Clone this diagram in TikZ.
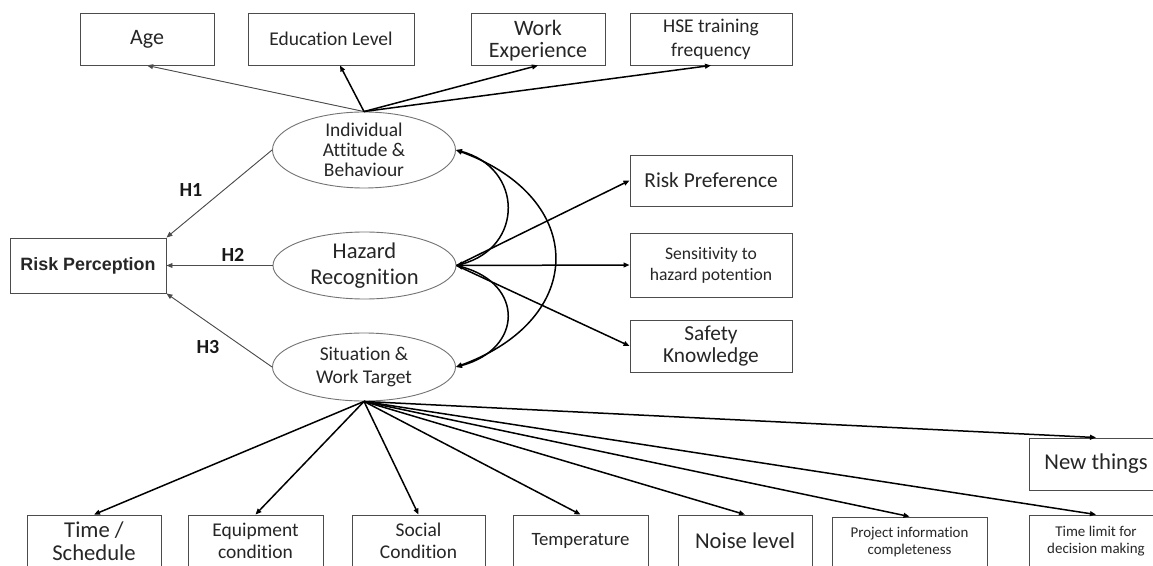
\documentclass[tikz,border=0pt]{standalone}
\usepackage{fontspec}
\setmainfont{Carlito}[Ligatures={NoCommon,NoContextual,NoRequired}]
\newfontfamily\arialfont{Liberation Sans}
\usetikzlibrary{arrows.meta,shapes.geometric}
\newlength{\unitpx}\setlength{\unitpx}{0.75pt}
\tikzset{
  box/.style 2 args={draw=black!70, line width=0.9\unitpx, inner sep=0pt, align=center,
    text=black!85, minimum width=#1\unitpx, minimum height=#2\unitpx},
  latent/.style={ellipse, draw=black!55, line width=0.9\unitpx, inner sep=0pt,
    minimum width=183\unitpx, minimum height=#1\unitpx},
  fbig/.style={font=\fontsize{16.5}{18}\selectfont},
  fmid/.style={font=\fontsize{14.6}{17}\selectfont},
  fsmall/.style={font=\fontsize{13.2}{15.75}\selectfont},
  ftiny/.style={font=\fontsize{11.2}{12.75}\selectfont},
  hyp/.style={font=\bfseries\fontsize{15}{18}\selectfont, text=black!90},
  link/.style={-{Triangle[length=4.5pt,width=3.6pt]}, line width=1.5\unitpx},
  thinlink/.style={-{Triangle[length=4.5pt,width=3.6pt]}, line width=0.9\unitpx, draw=black!70, fill=black!70},
  corr/.style={{Triangle[length=4.5pt,width=3.6pt]}-{Triangle[length=4.5pt,width=3.6pt]}, line width=1.5\unitpx}
}
\begin{document}
\begin{tikzpicture}[x=\unitpx, y=-\unitpx]
\useasboundingbox[fill=white] (0,0) rectangle (1153,566);
% top indicators
\node[box={134}{52}, fbig] (age) at (147,39) {Age};
\node[box={166}{52}, fmid] (edu) at (331,39) {Education Level};
\node[box={134}{52}, fbig, text depth=0pt] (work) at (538,39) {Work\\[-1pt]Experience};
\node[box={162}{52}, fmid] (hse) at (711,39) {HSE training\\[1pt]frequency};
% latent factors
\node[latent=76] (indiv) at (364,150) {};
\node[fmid, align=center, text=black!85, font=\fontsize{14.6}{15}\selectfont] (indivtxt) at (indiv) {Individual\\Attitude \&\\Behaviour};
\node[latent=67] (hazard) at (364.5,265.5) {};
\node[align=center, text=black!85, font=\fontsize{16.9}{20}\selectfont] (hazardtxt) at (hazard) {Hazard\\Recognition};
\node[latent=68] (situ) at (364,367) {};
\node[fmid, align=center, text=black!85, font=\fontsize{14.6}{17.5}\selectfont] (situtxt) at (situ) {Situation \&\\Work Target};
\node[box={156}{55}, font=\arialfont\bfseries\fontsize{13.4}{16}\selectfont] (rp) at (88,265.5) {Risk Perception};
% right indicators
\node[box={162}{51}, fbig, font=\fontsize{16}{18}\selectfont] (pref) at (711,180.5) {Risk Preference};
\node[box={162}{64}, fsmall] (sens) at (711,265) {Sensitivity to\\hazard potention};
\node[box={162}{52}, fbig, font=\fontsize{16}{17}\selectfont] (safe) at (711,346) {Safety\\Knowledge};
% bottom indicators
\node[box={134}{52}, fbig, font=\fontsize{17}{17}\selectfont] (time) at (94,541) {Time /\\Schedule};
\node[box={135}{52}, fmid, font=\fontsize{14.6}{16.25}\selectfont] (equip) at (255.5,541) {Equipment\\condition};
\node[box={133}{52}, fmid, font=\fontsize{14.6}{16.25}\selectfont] (social) at (418.5,541) {Social\\Condition};
\node[box={135}{52}, font=\fontsize{14.1}{17}\selectfont] (temp) at (580.5,541) {Temperature};
\node[box={134}{52}, font=\fontsize{17}{18}\selectfont] (noise) at (745,541) {Noise level};
\node[box={155}{50}, ftiny] (proj) at (909.5,542) {Project information\\completeness};
\node[box={134}{52}, ftiny] (tlimit) at (1096,541) {Time limit for\\decision making};
\node[box={134}{52}, font=\fontsize{17}{18}\selectfont] (newth) at (1096,464) {New things};
% hypotheses
\node[hyp] (h1) at (191,190) {H1};
\node[hyp] (h2) at (233,255) {H2};
\node[hyp] (h3) at (208,347) {H3};
\draw[thinlink] (indiv.west) -- (rp.north east);
\draw[thinlink] (hazard.west) -- (rp.east);
\draw[thinlink] (situ.west) -- (rp.south east);
% loadings
\coordinate (itop) at (indiv.north);
\draw[thinlink] (itop) -- (age.south);
\draw[link] (itop) -- ([xshift=9\unitpx]edu.south);
\draw[link] (itop) -- (work.south);
\draw[link] (itop) -- (hse.south);
\foreach \n in {pref,sens,safe}
  \draw[link] (hazard.east) -- (\n.west);
\coordinate (sbot) at (situ.south);
\foreach \n in {time,equip,social,temp,noise,proj,tlimit,newth}
  \draw[link] (sbot) -- (\n.north);
% correlations
\draw[corr] (indiv.east) .. controls +(-15:70\unitpx) and +(15:70\unitpx) .. (hazard.east);
\draw[corr] (hazard.east) .. controls +(-15:70\unitpx) and +(15:70\unitpx) .. (situ.east);
\draw[corr] (indiv.east) .. controls +(-20:140\unitpx) and +(20:140\unitpx) .. (situ.east);
\end{tikzpicture}
\end{document}
